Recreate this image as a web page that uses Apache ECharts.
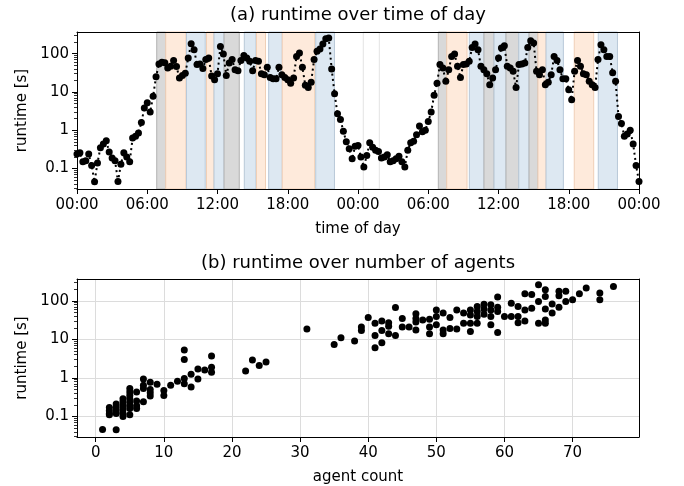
<!DOCTYPE html>
<html lang="en">
<head>
<meta charset="UTF-8">
<title>runtime</title>
<script src="https://cdn.jsdelivr.net/npm/echarts@6/dist/echarts.min.js"></script>
<style>
    html, body { margin: 0; padding: 0; background: #fff; }
    #chart { width: 684px; height: 486px; }
</style>
</head>
<body>
<div id="chart"></div>
<script>
    // (a) runtime [s], one sample every 15 minutes over two days
    const stepHours = 0.25;
    const runtimes = [
        0.24, 0.26, 0.15, 0.16, 0.24, 0.12, 0.045, 0.14, 0.35, 0.44,
        0.53, 0.27, 0.19, 0.16, 0.046, 0.13, 0.26, 0.2, 0.15, 0.63,
        0.7, 0.85, 1.6, 3.8, 5.2, 3.0, 7.7, 25, 54, 60,
        58, 42, 47, 66, 46, 23, 27, 31, 77, 182,
        127, 52, 54, 41, 70, 77, 26, 21, 30, 155,
        98, 27, 57, 70, 38, 36, 66, 90, 77, 63,
        36, 66, 63, 30, 28, 44, 24, 22, 22, 44,
        28, 24, 21, 17, 23, 85, 104, 44, 15, 13,
        18, 70, 115, 132, 179, 245, 256, 40, 9.0, 2.7,
        1.9, 0.94, 0.5, 0.33, 0.18, 0.38, 0.4, 0.2, 0.11, 0.22,
        0.47, 0.36, 0.3, 0.28, 0.19, 0.2, 0.23, 0.15, 0.16, 0.18,
        0.21, 0.15, 0.11, 0.3, 0.47, 0.52, 0.77, 1.3, 0.91, 1.0,
        1.7, 3.0, 8.2, 17, 52, 42, 19, 38, 85, 98,
        47, 24, 52, 54, 63, 146, 179, 127, 47, 38,
        30, 15.5, 23, 38, 77, 141, 162, 47, 42, 35,
        13, 52, 54, 57, 146, 218, 190, 35, 28, 38,
        15.5, 18, 28, 85, 66, 38, 22, 22, 11.5, 6.3,
        35, 66, 47, 30, 28, 19, 15.5, 13, 70, 172,
        127, 85, 85, 32, 19, 2.3, 1.5, 0.7, 0.8, 1.0,
        0.44, 0.12, 0.046
    ];

    // shaded periods (hours since first midnight) and their kind
    const bandStart = [6.81, 7.58, 9.35, 11.06, 11.70, 12.56, 14.29, 15.33, 16.37, 17.53, 20.39, 24.45,
        30.86, 31.58, 33.51, 34.76, 35.62, 36.64, 37.73, 38.61, 39.37, 40.06, 42.47, 44.52];
    const bandEnd = [7.58, 9.31, 10.95, 11.70, 12.56, 13.86, 15.29, 16.10, 17.53, 20.30, 21.99, 25.82,
        31.58, 33.31, 34.76, 35.62, 36.64, 37.73, 38.61, 39.37, 40.06, 41.54, 44.13, 46.16];
    const bandKind = ['g', 'o', 'b', 'o', 'b', 'g', 'b', 'o', 'b', 'o', 'b', 'w',
        'g', 'o', 'b', 'g', 'b', 'g', 'b', 'g', 'o', 'b', 'o', 'b'];

    const dayTicks = ['00:00', '06:00', '12:00', '18:00'];

    // (b) runtime [s] per number of agents
    const agentCounts = [1, 2, 3, 4, 5, 6, 7, 8, 9, 10, 11, 12, 13, 14, 15, 16, 17, 22, 23, 24, 25, 31, 35, 36, 38, 39,
        40, 41, 42, 43, 44, 45, 46, 47, 48, 49, 50, 51, 52, 53, 54, 55, 56, 57, 58, 59,
        60, 61, 62, 63, 64, 65, 66, 67, 68, 69, 70, 71, 72, 74, 76];
    const runtimesByCount = [
        [0.046], [0.17, 0.14, 0.12, 0.11], [0.045, 0.21, 0.17, 0.14, 0.12], [0.29, 0.24, 0.19, 0.15, 0.12, 0.1],
        [0.53, 0.43, 0.35, 0.29, 0.23, 0.19, 0.16, 0.11], [0.43, 0.25, 0.19, 0.16], [0.93, 0.64, 0.53, 0.24],
        [0.77, 0.5, 0.41, 0.34], [0.68], [0.47, 0.35], [0.64], [0.82], [5.3, 3.0, 0.96, 0.71], [1.25, 0.58],
        [1.7, 0.93], [1.6], [3.7, 1.9, 1.4], [1.5], [2.9], [2.1], [2.6], [18.6], [7.4], [11], [9.1], [21, 17],
        [37], [26, 12.5, 6.1], [30, 17, 8.2], [27, 22, 14], [67, 12.5], [35, 21], [21], [46, 35, 28, 17.5],
        [32], [33, 21, 14], [58, 39, 24], [48, 17.5, 14], [37, 19], [58, 18.5], [48, 26], [58, 43, 26, 16],
        [71, 53, 39, 26], [82, 61, 45], [79, 58, 39, 24], [125, 68, 53, 15],
        [39], [87, 39], [71, 39, 27], [152, 58, 30], [145, 64], [262, 96, 26], [193, 130, 61, 32, 26],
        [83, 48], [177, 135, 68], [177, 96], [106], [152], [214], [160, 106], [236]
    ];
    const agentTicks = [0, 10, 20, 30, 40, 50, 60, 70];

    const majorY = [0.1, 1, 10, 100];
    const yMin = 0.0293, yMax = 368;

    let minorY = [];
    [0.01, 0.1, 1, 10, 100].forEach(d => {
        for (let m = 2; m <= 9; m++) {
            let v = +(m * d).toPrecision(2);
            if (v > yMin && v < yMax) minorY.push(v);
        }
    });

    const FONT = 'DejaVu Sans';
    const txt = { fontFamily: FONT, fontSize: 15, color: '#000' };
    const black = { color: '#000', width: 1 };
    const dot = { color: '#000', opacity: 1, borderColor: '#000', borderWidth: 0 };

    let linePoints = runtimes.map((v, i) => [i * stepHours, v]);
    let scatterPoints = [];
    agentCounts.forEach((n, i) => runtimesByCount[i].forEach(r => scatterPoints.push([n, r])));

    const bandColors = {
        g: ['#d9d9d9', '#b3b3b3'],
        o: ['#feeadb', '#f0cfb6'],
        b: ['#dde8f2', '#b8c8d8'],
        w: ['#ffffff', '#e3e3e3']
    };
    let bands = bandStart.map((s, i) => [
        { xAxis: s, itemStyle: { color: bandColors[bandKind[i]][0], borderColor: bandColors[bandKind[i]][1], borderWidth: 1, opacity: 1 } },
        { xAxis: bandEnd[i] }
    ]);

    function fmtY(v) {
        return v >= 1 ? String(Math.round(v)) : String(+v.toPrecision(1));
    }

    // top panel axes sit above the shaded bands, bottom panel grid lines stay under the dots
    function yAxes(grid) {
        let z = grid === 0 ? 10 : 0;
        return [{
            gridIndex: grid, type: 'log', logBase: 10, min: yMin, max: yMax, position: 'left', z: z,
            name: 'runtime [s]', nameLocation: 'middle', nameGap: 46, nameTextStyle: txt,
            axisLine: { show: true, onZero: false, lineStyle: black },
            axisTick: { show: true, length: 5, lineStyle: black, customValues: majorY },
            axisLabel: Object.assign({ margin: 8, customValues: majorY, formatter: fmtY }, txt),
            splitLine: { show: grid === 1, lineStyle: { color: '#dcdcdc', width: 1 } }
        }, {
            gridIndex: grid, type: 'log', logBase: 10, min: yMin, max: yMax, position: 'left', z: 10,
            axisLine: { show: false, onZero: false },
            axisTick: { show: true, length: 3, lineStyle: { color: '#000', width: 0.8 }, customValues: minorY },
            axisLabel: { show: false },
            splitLine: { show: false }
        }, {
            gridIndex: grid, type: 'value', min: 0, max: 1, position: 'right', z: 10,
            axisLine: { show: true, onZero: false, lineStyle: black },
            axisTick: { show: false }, axisLabel: { show: false }, splitLine: { show: false }
        }];
    }

    function topFrame(grid) {
        return {
            gridIndex: grid, type: 'value', min: 0, max: 1, position: 'top', z: 10,
            axisLine: { show: true, onZero: false, lineStyle: black },
            axisTick: { show: false }, axisLabel: { show: false }, splitLine: { show: false }
        };
    }

    let my_chart = echarts.init(document.getElementById('chart'));
    let option = {
        animation: false,
        backgroundColor: '#fff',
        grid: [
            { left: 77, top: 32, width: 562, height: 157 },
            { left: 77, top: 279, width: 562, height: 158 }
        ],
        graphic: [
            { type: 'text', x: 358, y: 15, style: { text: '(a) runtime over time of day', fill: '#000', font: '18px "DejaVu Sans"', align: 'center', verticalAlign: 'middle' } },
            { type: 'text', x: 358, y: 263, style: { text: '(b) runtime over number of agents', fill: '#000', font: '18px "DejaVu Sans"', align: 'center', verticalAlign: 'middle' } }
        ],
        xAxis: [{
            gridIndex: 0, type: 'value', min: 0, max: 48, interval: 6, position: 'bottom', z: 10,
            name: 'time of day', nameLocation: 'middle', nameGap: 33, nameTextStyle: txt,
            axisLine: { show: true, onZero: false, lineStyle: black },
            axisTick: { show: true, length: 5, lineStyle: black },
            axisLabel: Object.assign({ margin: 9, formatter: v => dayTicks[Math.round(v / 6) % 4] }, txt),
            splitLine: { show: false }
        }, topFrame(0), {
            gridIndex: 1, type: 'value', min: -2.75, max: 79.75, position: 'bottom', z: 0,
            name: 'agent count', nameLocation: 'middle', nameGap: 33, nameTextStyle: txt,
            axisLine: { show: true, onZero: false, lineStyle: black },
            axisTick: { show: true, length: 5, lineStyle: black, customValues: agentTicks },
            axisLabel: Object.assign({ margin: 9, customValues: agentTicks }, txt),
            splitLine: { show: true, lineStyle: { color: '#dcdcdc', width: 1 } }
        }, topFrame(1)],
        yAxis: yAxes(0).concat(yAxes(1)),
        series: [{
            type: 'line', xAxisIndex: 0, yAxisIndex: 0, data: [], z: 1,
            markArea: { silent: true, data: bands }
        }, {
            type: 'line', xAxisIndex: 0, yAxisIndex: 0, z: 3,
            data: linePoints,
            symbol: 'circle', symbolSize: 7, showSymbol: true, showAllSymbol: true,
            itemStyle: dot,
            lineStyle: { color: '#000', width: 2, type: [2, 3.3] }
        }, {
            type: 'scatter', xAxisIndex: 2, yAxisIndex: 3, z: 3,
            data: scatterPoints,
            symbol: 'circle', symbolSize: 7,
            itemStyle: dot
        }]
    };
    my_chart.setOption(option);
</script>
</body>
</html>
